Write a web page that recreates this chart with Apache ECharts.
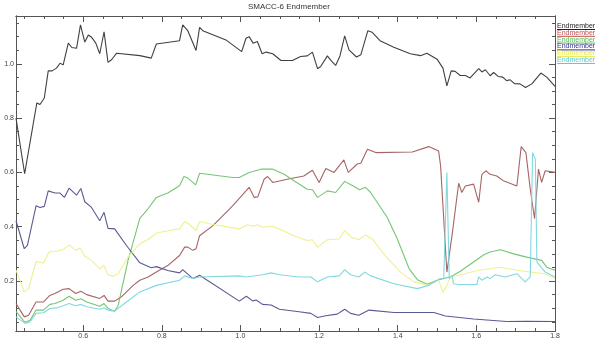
<!DOCTYPE html>
<html>
<head>
<meta charset="utf-8">
<script src="https://cdn.jsdelivr.net/npm/echarts@6/dist/echarts.min.js"></script>
<style>html,body{margin:0;padding:0;background:#fff}#c{width:595px;height:340px}</style>
</head>
<body>
<div id="c"></div>
<script>
const titleText = 'SMACC-6 Endmember';
const legendNames = ['Endmember','Endmember','Endmember','Endmember','Endmember','Endmember'];

const xMajor = [0.6,0.8,1.0,1.2,1.4,1.6,1.8];
const xMinor = [0.45,0.5,0.55,0.65,0.7,0.75,0.85,0.9,0.95,1.05,1.1,1.15,1.25,1.3,1.35,1.45,1.5,1.55,1.65,1.7,1.75];
const yMajor = [0.2,0.4,0.6,0.8,1.0];
const yMinor = [0.05,0.1,0.15,0.25,0.3,0.35,0.45,0.5,0.55,0.65,0.7,0.75,0.85,0.9,0.95,1.05,1.1,1.15];

const seriesBlack = [[0.429,0.80],[0.451,0.595],[0.482,0.856],[0.490,0.85],[0.501,0.874],[0.511,0.974],[0.521,0.974],[0.532,0.984],[0.541,1.002],[0.549,0.996],[0.562,1.076],[0.571,1.06],[0.583,1.057],[0.593,1.143],[0.604,1.08],[0.613,1.106],[0.621,1.098],[0.632,1.076],[0.642,1.037],[0.653,1.118],[0.663,1.005],[0.672,1.015],[0.685,1.039],[0.744,1.03],[0.773,1.021],[0.786,1.073],[0.845,1.085],[0.853,1.143],[0.866,1.122],[0.887,1.049],[0.896,1.134],[0.904,1.122],[0.963,1.088],[1.003,1.045],[1.014,1.094],[1.022,1.10],[1.032,1.076],[1.043,1.082],[1.055,1.037],[1.065,1.043],[1.082,1.037],[1.103,1.012],[1.132,1.012],[1.153,1.027],[1.17,1.029],[1.183,1.043],[1.196,0.982],[1.204,0.990],[1.221,1.029],[1.231,1.011],[1.242,0.994],[1.253,1.029],[1.265,1.103],[1.276,1.051],[1.295,1.025],[1.306,1.033],[1.324,1.122],[1.335,1.116],[1.355,1.085],[1.39,1.061],[1.432,1.037],[1.458,1.03],[1.474,1.039],[1.50,1.017],[1.515,0.984],[1.525,0.919],[1.536,0.974],[1.546,0.972],[1.559,0.957],[1.572,0.957],[1.584,0.948],[1.606,0.982],[1.614,0.97],[1.623,0.978],[1.635,0.956],[1.644,0.968],[1.656,0.953],[1.667,0.951],[1.677,0.938],[1.686,0.941],[1.697,0.927],[1.711,0.926],[1.725,0.913],[1.741,0.926],[1.764,0.966],[1.779,0.951],[1.8,0.917]];

const seriesRed = [[0.429,0.117],[0.45,0.068],[0.461,0.074],[0.48,0.123],[0.499,0.123],[0.515,0.147],[0.528,0.154],[0.549,0.17],[0.564,0.172],[0.581,0.154],[0.594,0.162],[0.609,0.15],[0.642,0.136],[0.653,0.147],[0.663,0.126],[0.68,0.126],[0.697,0.142],[0.727,0.184],[0.744,0.203],[0.765,0.215],[0.786,0.233],[0.815,0.257],[0.845,0.294],[0.858,0.325],[0.866,0.325],[0.879,0.313],[0.887,0.319],[0.896,0.367],[0.93,0.404],[0.98,0.477],[1.022,0.545],[1.035,0.508],[1.044,0.51],[1.06,0.575],[1.069,0.585],[1.082,0.563],[1.119,0.575],[1.161,0.587],[1.183,0.608],[1.2,0.563],[1.217,0.614],[1.238,0.6],[1.263,0.646],[1.274,0.6],[1.297,0.631],[1.306,0.634],[1.323,0.685],[1.344,0.673],[1.437,0.675],[1.479,0.695],[1.504,0.679],[1.509,0.624],[1.525,0.233],[1.538,0.367],[1.555,0.56],[1.563,0.526],[1.572,0.55],[1.593,0.557],[1.606,0.49],[1.614,0.593],[1.624,0.606],[1.635,0.593],[1.652,0.587],[1.669,0.569],[1.703,0.55],[1.714,0.695],[1.726,0.673],[1.737,0.539],[1.748,0.43],[1.758,0.612],[1.766,0.563],[1.775,0.606],[1.8,0.6]];

const seriesGreen = [[0.429,0.087],[0.452,0.048],[0.465,0.056],[0.48,0.093],[0.499,0.093],[0.515,0.114],[0.528,0.117],[0.549,0.129],[0.564,0.144],[0.581,0.129],[0.594,0.135],[0.609,0.123],[0.642,0.107],[0.653,0.117],[0.663,0.099],[0.68,0.089],[0.689,0.111],[0.714,0.276],[0.744,0.431],[0.761,0.459],[0.786,0.508],[0.815,0.524],[0.845,0.551],[0.856,0.585],[0.866,0.579],[0.886,0.554],[0.896,0.597],[0.98,0.581],[0.997,0.581],[1.022,0.60],[1.052,0.612],[1.082,0.612],[1.111,0.593],[1.136,0.569],[1.17,0.538],[1.183,0.536],[1.196,0.508],[1.221,0.532],[1.242,0.526],[1.265,0.567],[1.289,0.548],[1.303,0.536],[1.318,0.545],[1.331,0.526],[1.373,0.435],[1.399,0.355],[1.429,0.245],[1.45,0.205],[1.475,0.188],[1.50,0.203],[1.517,0.209],[1.534,0.215],[1.559,0.236],[1.593,0.27],[1.619,0.297],[1.635,0.307],[1.661,0.315],[1.695,0.30],[1.728,0.288],[1.766,0.276],[1.779,0.251],[1.8,0.24]];

const seriesNavy = [[0.429,0.422],[0.45,0.319],[0.458,0.331],[0.48,0.477],[0.49,0.471],[0.501,0.475],[0.511,0.532],[0.528,0.524],[0.541,0.524],[0.552,0.508],[0.564,0.542],[0.583,0.516],[0.594,0.541],[0.604,0.492],[0.621,0.471],[0.642,0.422],[0.653,0.453],[0.663,0.394],[0.68,0.392],[0.71,0.331],[0.744,0.267],[0.773,0.249],[0.786,0.253],[0.815,0.239],[0.845,0.23],[0.853,0.242],[0.879,0.209],[0.896,0.221],[0.997,0.126],[1.015,0.144],[1.031,0.127],[1.04,0.13],[1.056,0.114],[1.078,0.112],[1.099,0.096],[1.149,0.087],[1.179,0.081],[1.196,0.066],[1.217,0.072],[1.246,0.078],[1.265,0.096],[1.28,0.081],[1.301,0.074],[1.327,0.093],[1.39,0.084],[1.492,0.084],[1.521,0.071],[1.593,0.06],[1.677,0.051],[1.728,0.052],[1.8,0.051]];

const seriesYellow = [[0.429,0.24],[0.45,0.16],[0.461,0.172],[0.48,0.272],[0.499,0.267],[0.513,0.307],[0.528,0.309],[0.549,0.316],[0.564,0.333],[0.581,0.313],[0.592,0.322],[0.604,0.292],[0.621,0.276],[0.642,0.245],[0.653,0.257],[0.663,0.223],[0.676,0.218],[0.689,0.227],[0.714,0.288],[0.744,0.337],[0.765,0.353],[0.786,0.377],[0.82,0.386],[0.845,0.392],[0.858,0.419],[0.869,0.41],[0.887,0.386],[0.896,0.419],[0.93,0.408],[0.997,0.392],[1.018,0.407],[1.031,0.402],[1.044,0.407],[1.056,0.398],[1.082,0.402],[1.107,0.386],[1.136,0.367],[1.17,0.349],[1.183,0.352],[1.196,0.325],[1.221,0.352],[1.251,0.355],[1.265,0.386],[1.282,0.361],[1.301,0.352],[1.318,0.37],[1.335,0.355],[1.369,0.292],[1.407,0.233],[1.441,0.197],[1.479,0.184],[1.504,0.203],[1.515,0.158],[1.525,0.184],[1.534,0.215],[1.555,0.221],[1.606,0.24],[1.661,0.251],[1.703,0.24],[1.737,0.233],[1.775,0.227],[1.8,0.209]];

const seriesCyan = [[0.429,0.068],[0.452,0.044],[0.465,0.05],[0.48,0.081],[0.499,0.083],[0.515,0.099],[0.532,0.101],[0.549,0.109],[0.564,0.117],[0.581,0.109],[0.594,0.114],[0.609,0.105],[0.642,0.096],[0.653,0.101],[0.663,0.093],[0.68,0.089],[0.71,0.123],[0.744,0.16],[0.786,0.184],[0.845,0.203],[0.858,0.219],[0.879,0.209],[0.896,0.215],[0.997,0.219],[1.014,0.215],[1.056,0.223],[1.078,0.23],[1.099,0.223],[1.149,0.215],[1.179,0.215],[1.196,0.197],[1.221,0.215],[1.251,0.219],[1.265,0.242],[1.28,0.223],[1.301,0.215],[1.316,0.233],[1.331,0.219],[1.39,0.19],[1.45,0.172],[1.479,0.184],[1.508,0.209],[1.517,0.209],[1.525,0.60],[1.531,0.209],[1.538,0.221],[1.542,0.19],[1.555,0.187],[1.601,0.187],[1.606,0.215],[1.614,0.203],[1.627,0.215],[1.635,0.209],[1.648,0.223],[1.673,0.215],[1.703,0.227],[1.724,0.197],[1.737,0.215],[1.743,0.673],[1.75,0.648],[1.754,0.27],[1.775,0.233],[1.8,0.215]];

const lineColors = ['#404040','#a86464','#76c676','#5a5a92','#f0f090','#80d8e0'];
const legendColors = ['#222222','#c05050','#50c050','#303090','#e6e640','#50d0d8'];

const X_MIN = 0.429, X_MAX = 1.8, Y_MIN = 0.016, Y_MAX = 1.176;
const FONT = 'Liberation Sans, Arial, sans-serif';
const axisColor = '#555';

function mkX(pos, ticks, len, labels) {
  return {
    type: 'value', position: pos, min: X_MIN, max: X_MAX,
    axisLine: {show: true, onZero: false, lineStyle: {color: axisColor, width: 1}},
    axisTick: {show: true, inside: true, length: len, customValues: ticks, lineStyle: {color: axisColor}},
    axisLabel: labels ? {show: true, customValues: xMajor, formatter: v => v.toFixed(1), fontSize: 7, color: '#444', margin: 2, fontFamily: FONT} : {show: false},
    splitLine: {show: false}
  };
}
function mkY(pos, ticks, len, labels) {
  return {
    type: 'value', position: pos, min: Y_MIN, max: Y_MAX,
    axisLine: {show: true, onZero: false, lineStyle: {color: axisColor, width: 1}},
    axisTick: {show: true, inside: true, length: len, customValues: ticks, lineStyle: {color: axisColor}},
    axisLabel: labels ? {show: true, customValues: yMajor, formatter: v => v.toFixed(1), fontSize: 7, color: '#444', margin: 2, fontFamily: FONT} : {show: false},
    splitLine: {show: false}
  };
}

const datasets = [seriesBlack, seriesRed, seriesGreen, seriesNavy, seriesYellow, seriesCyan];

const graphics = [{
  type: 'text', left: 248, top: 3,
  style: {text: titleText, fontSize: 8, fill: '#333', fontFamily: FONT}
}];
legendNames.forEach((n, i) => {
  graphics.push({type: 'text', left: 557, top: 22.5 + 6.8 * i,
    style: {text: n, fontSize: 7, fill: legendColors[i], fontFamily: FONT}});
  graphics.push({type: 'line', shape: {x1: 557, y1: 29.5 + 6.8 * i, x2: 595, y2: 29.5 + 6.8 * i},
    style: {stroke: legendColors[i], lineWidth: 1}});
});

const chart = echarts.init(document.getElementById('c'), null, {renderer: 'canvas'});
chart.setOption({
  animation: false,
  backgroundColor: '#fff',
  grid: {left: 16, right: 40, top: 16, bottom: 7, containLabel: false},
  xAxis: [mkX('bottom', xMajor, 6, true), mkX('bottom', xMinor, 3, false), mkX('top', xMajor, 6, false), mkX('top', xMinor, 3, false)],
  yAxis: [mkY('left', yMajor, 6, true), mkY('left', yMinor, 3, false), mkY('right', yMajor, 6, false), mkY('right', yMinor, 3, false)],
  series: datasets.map((d, i) => ({
    type: 'line', name: legendNames[i], data: d, xAxisIndex: 0, yAxisIndex: 0,
    showSymbol: false, symbol: 'none', lineStyle: {color: lineColors[i], width: 1.1}, itemStyle: {color: lineColors[i]},
    silent: true
  })),
  graphic: graphics
});
</script>
</body>
</html>
